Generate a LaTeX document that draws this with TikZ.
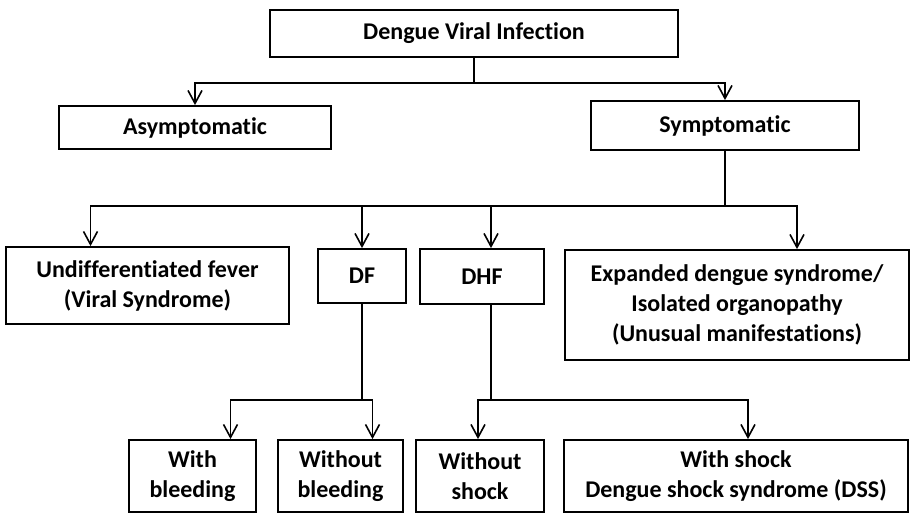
\documentclass[tikz,border=0pt]{standalone}
\usepackage{fontspec}
\setmainfont{Carlito}[Ligatures=NoCommon]
\usetikzlibrary{arrows.meta}
\begin{document}
\begin{tikzpicture}[x=1pt,y=-1pt,
  box/.style={draw,line width=1.8pt,inner sep=0pt,align=center,
    font=\fontsize{24}{30}\selectfont\bfseries},
  link/.style={line width=1.5pt},
  arr/.style={link,-{Straight Barb[length=13pt,width=14pt,line width=1.6pt]}}]
\useasboundingbox (0,0) rectangle (911,515);
% top levels
\node[box,minimum width=408,minimum height=47] (dvi) at (474,33.5) {Dengue Viral Infection};
\node[box,minimum width=272,minimum height=43] (asym) at (195,127.5) {Asymptomatic};
\node[box,minimum width=268,minimum height=49] (sym) at (725,125.5) {Symptomatic};
% second level
\node[box,minimum width=283,minimum height=77] (undiff) at (147.5,285.5) {Undifferentiated fever\\(Viral Syndrome)};
\node[box,minimum width=88,minimum height=54] (df) at (362,276) {DF};
\node[box,minimum width=124,minimum height=55] (dhf) at (482,276.5) {DHF};
\node[box,minimum width=344,minimum height=110] (eds) at (737,305) {Expanded dengue syndrome/\\Isolated organopathy\\(Unusual manifestations)};
% third level
\node[box,minimum width=127,minimum height=72] (wbl) at (192.5,476) {With\\bleeding};
\node[box,minimum width=125,minimum height=72] (wobl) at (340.5,476) {Without\\bleeding};
\node[box,minimum width=128,minimum height=72] (wosh) at (480,476) {Without\\shock};
\node[box,minimum width=344,minimum height=72] (wsh) at (736,476) {With shock\\Dengue shock syndrome (DSS)};
% connectors
\draw[link] (dvi.south) -- ++(0,25) coordinate (j1);
\draw[arr] (j1) -| (asym.north);
\draw[arr] (j1) -| (sym.north);
\draw[link] (sym.south) -- ++(0,55) coordinate (j2);
\draw[arr] (j2) -| ([xshift=-57pt]undiff.north);
\draw[arr] (j2) -| (df.north);
\draw[arr] (j2) -| ([xshift=9pt]dhf.north);
\draw[arr] (j2) -| ([xshift=60pt]eds.north);
\draw[link] (df.south) -- ++(0,96) coordinate (j3);
\draw[arr] (j3) -| ([xshift=38pt]wbl.north);
\draw[arr] (j3) -| ([xshift=32pt]wobl.north);
\draw[link] ([xshift=9pt]dhf.south) -- ++(0,95) coordinate (j4);
\draw[arr] (j4) -| ([xshift=-2pt]wosh.north);
\draw[arr] (j4) -| ([xshift=12pt]wsh.north);
\end{tikzpicture}
\end{document}
